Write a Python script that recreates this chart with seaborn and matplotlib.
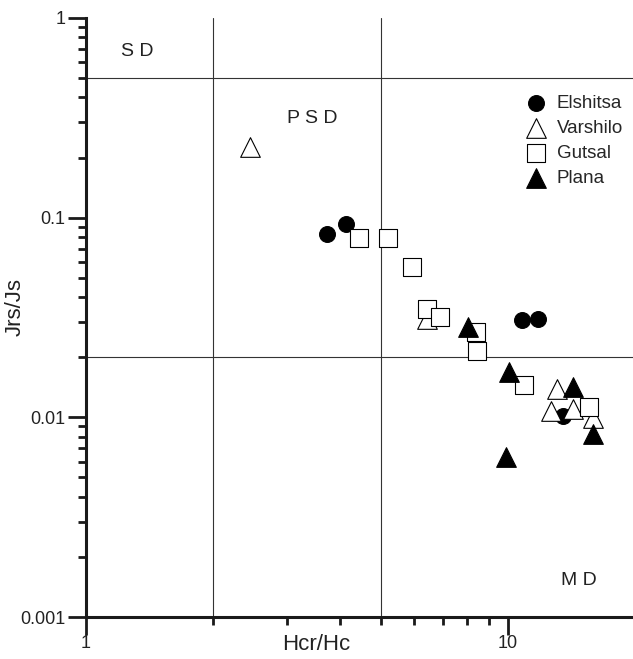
import pandas as pd
import matplotlib
matplotlib.use('Agg')
import matplotlib.pyplot as plt
import matplotlib.ticker as mticker
import seaborn as sns

# Day plot values (Hcr/Hc vs Jrs/Js)
elshitsa_x = [3.73, 4.13, 10.78, 11.76, 13.48]
elshitsa_y = [0.083, 0.093, 0.0308, 0.0311, 0.0101]

varshilo_x = [2.45, 6.42, 13.09, 12.64, 14.23, 15.87]
varshilo_y = [0.227, 0.031, 0.0138, 0.0107, 0.011, 0.0099]

gutsal_x = [4.44, 5.19, 5.92, 6.43, 6.90, 8.38, 8.44, 10.91, 15.56]
gutsal_y = [0.0788, 0.0787, 0.0564, 0.035, 0.0319, 0.0267, 0.0216, 0.0146, 0.0113]

plana_x = [8.05, 10.07, 14.23, 15.93, 9.87]
plana_y = [0.0285, 0.0169, 0.0142, 0.0083, 0.0063]

# domain boundaries
hcr_bounds = [2, 5]
jrs_bounds = [0.5, 0.02]

sns.set_style('ticks')
plt.rcParams['font.family'] = ['Liberation Sans', 'DejaVu Sans']

fig = plt.figure(figsize=(6.33, 6.59), dpi=100)
ax = fig.add_axes([0.1359, 0.0637, 0.8641, 0.909])

groups = [
    ('Elshitsa', elshitsa_x, elshitsa_y, 'o', 'black', 130),
    ('Varshilo', varshilo_x, varshilo_y, '^', 'white', 200),
    ('Gutsal', gutsal_x, gutsal_y, 's', 'white', 150),
    ('Plana', plana_x, plana_y, '^', 'black', 200),
]
for name, xs, ys, mk, fc, size in groups:
    df = pd.DataFrame({'Hcr/Hc': xs, 'Jrs/Js': ys})
    sns.scatterplot(data=df, x='Hcr/Hc', y='Jrs/Js', ax=ax, marker=mk, s=size,
                    color=fc, edgecolor='black', linewidth=0.8, label=name, zorder=3)

for xv in hcr_bounds:
    ax.axvline(xv, color='#333333', linewidth=0.8, zorder=1)
for yv in jrs_bounds:
    ax.axhline(yv, color='#333333', linewidth=0.8, zorder=1)

ax.set_xscale('log')
ax.set_yscale('log')
ax.set_xlim(1, 19.78)
ax.set_ylim(0.001, 1)

ax.xaxis.set_major_locator(mticker.FixedLocator([1, 10]))
ax.xaxis.set_major_formatter(mticker.FixedFormatter(['1', '10']))
ax.xaxis.set_minor_locator(mticker.FixedLocator([2, 3, 4, 5, 6, 7, 8, 9]))
ax.xaxis.set_minor_formatter(mticker.NullFormatter())
ax.yaxis.set_major_locator(mticker.FixedLocator([0.001, 0.01, 0.1, 1]))
ax.yaxis.set_major_formatter(mticker.FixedFormatter(['0.001', '0.01', '0.1', '1']))
ax.yaxis.set_minor_locator(mticker.LogLocator(base=10, subs=range(2, 10)))
ax.yaxis.set_minor_formatter(mticker.NullFormatter())

ax.tick_params(which='major', direction='out', length=13, width=2, labelsize=13,
               color='#1a1a1a', labelcolor='#222222', pad=2)
ax.tick_params(which='minor', direction='out', length=6, width=2, color='#1a1a1a')
ax.tick_params(axis='x', which='major', pad=0)

sns.despine(ax=ax)
for sp in ['left', 'bottom']:
    ax.spines[sp].set_linewidth(2.2)
    ax.spines[sp].set_color('#1a1a1a')

ax.set_xlabel('Hcr/Hc', fontsize=16, color='#222222')
ax.xaxis.set_label_coords(0.42, -0.029)
ax.set_ylabel('Jrs/Js', fontsize=16, color='#222222')
ax.yaxis.set_label_coords(-0.111, 0.5175)

ax.text(1.32, 0.676, 'S D', fontsize=14, color='#222222', ha='center', va='center')
ax.text(3.43, 0.312, 'P S D', fontsize=14, color='#222222', ha='center', va='center')
ax.text(14.7, 0.00152, 'M D', fontsize=14, color='#222222', ha='center', va='center')

leg = ax.legend(loc='upper right', bbox_to_anchor=(0.995, 0.885), frameon=False,
                fontsize=13.5, handletextpad=0.1, labelspacing=0.42, borderaxespad=0)

fig.savefig('out.png', dpi=100)
plt.close(fig)
